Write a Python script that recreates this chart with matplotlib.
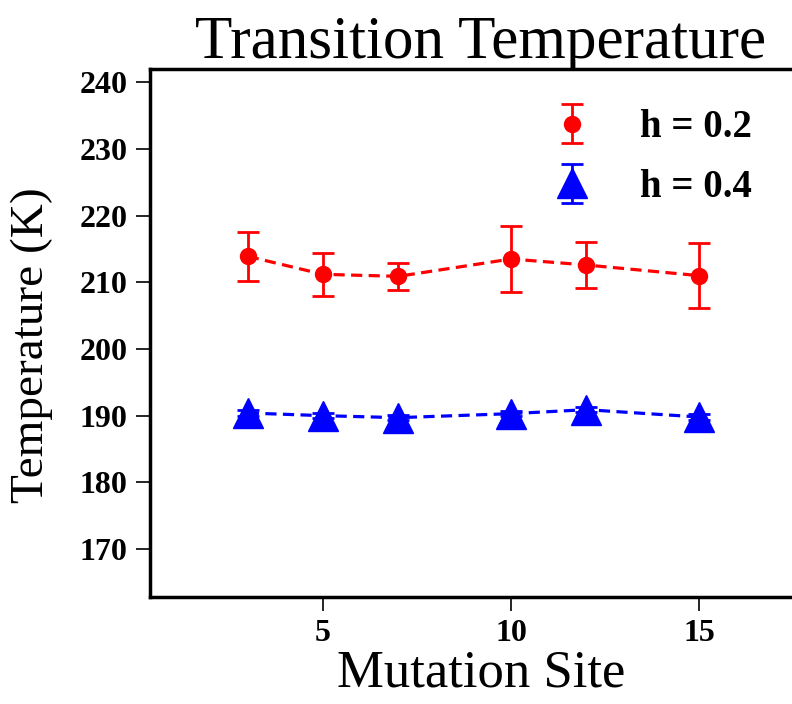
import numpy as np
import matplotlib.pyplot as plt

plt.rcParams['font.family'] = ['Liberation Serif', 'DejaVu Serif']

# Mutation sites and transition temperatures
sites = np.array([3, 5, 7, 10, 12, 15])
temp_h02 = np.array([213.9, 211.2, 210.9, 213.5, 212.6, 211.0])
err_h02 = np.array([3.7, 3.2, 2.0, 5.0, 3.5, 4.9])
temp_h04 = np.array([190.4, 190.0, 189.7, 190.3, 190.9, 189.8])
err_h04 = np.array([0.4, 0.4, 0.4, 0.4, 0.4, 0.4])

fig = plt.figure(figsize=(7.92, 7.04), dpi=100)
# axes runs past the right edge of the figure
ax = fig.add_axes([150 / 792, 107 / 704, 662 / 792, 528 / 704])

# dashed connecting lines (kept out of the legend)
ax.plot(sites, temp_h02, color='red', ls=(0, (3.5, 2)), lw=2.3)
ax.plot(sites, temp_h04, color='blue', ls=(0, (3.5, 2)), lw=2.3)

ax.errorbar(sites, temp_h02, yerr=err_h02, fmt='o', color='red', ms=11.5,
            capsize=8, elinewidth=2, capthick=2, label='h = 0.2')
ax.errorbar(sites, temp_h04, yerr=err_h04, fmt='^', color='blue', ms=22,
            capsize=8, elinewidth=2, capthick=2, label='h = 0.4')

ax.set_xlim(0.4, 18)
ax.set_ylim(162.8, 242)
ax.set_xticks([5, 10, 15])
ax.set_yticks(np.arange(170, 241, 10))

for s in ax.spines.values():
    s.set_linewidth(2.5)
ax.tick_params(direction='out', length=10, width=1.2, labelsize=23, pad=6)
for lab in ax.get_xticklabels() + ax.get_yticklabels():
    lab.set_fontweight('bold')

ax.set_title('Transition Temperature', fontsize=44, y=1.0, pad=8)
ax.set_xlabel('Mutation Site', fontsize=38, labelpad=1)
ax.set_ylabel('Temperature (K)', fontsize=34)
ax.yaxis.set_label_coords(-0.147, 0.477)

leg = ax.legend(loc='upper left', bbox_to_anchor=(0.54, 0.99), frameon=False,
                prop={'size': 28, 'weight': 'bold'}, handlelength=1.5,
                handletextpad=1.0, labelspacing=0.58)

fig.savefig('out.png', dpi=100)
